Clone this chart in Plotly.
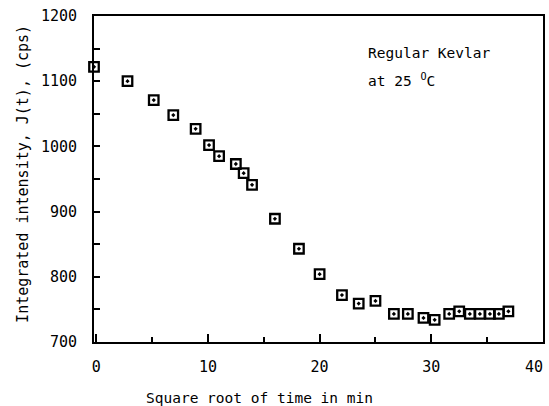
import plotly.graph_objects as go

sqrt_time = [-0.2, 2.8, 5.15, 6.9, 8.9, 10.1, 11.0, 12.5, 13.2, 13.95,
             16.0, 18.15, 20.0, 22.0, 23.5, 25.0, 26.65, 27.9, 29.3, 30.3,
             31.6, 32.5, 33.45, 34.35, 35.25, 36.05, 36.9]
intensity = [1122, 1100, 1071, 1048, 1027, 1002, 985, 973, 959, 941,
             889, 843, 804, 772, 759, 763, 743, 743, 737, 734,
             743, 747, 743, 743, 743, 743, 747]

x_ticks = [0, 10, 20, 30, 40]
x_labels = ["0", "10", "20", "30", "40"]
y_ticks = [700, 800, 900, 1000, 1100, 1200]

FONT = "DejaVu Sans Mono"

fig = go.Figure()
fig.add_trace(go.Scatter(
    x=sqrt_time, y=intensity, mode="markers",
    marker=dict(symbol="square-open-dot", size=9.5, color="black",
                line=dict(width=2.3, color="black")),
    showlegend=False, cliponaxis=False,
))

fig.update_layout(
    width=549, height=406,
    margin=dict(l=93.5, r=4, t=16, b=64),
    paper_bgcolor="white", plot_bgcolor="white",
    font=dict(family=FONT, size=14, color="black"),
    xaxis=dict(range=[-0.2, 40], tickvals=x_ticks[:-1], ticktext=x_labels[:-1],
               showgrid=False, zeroline=False, showline=True, linecolor="black",
               linewidth=2, mirror=True, ticks="inside", ticklen=8, tickwidth=2,
               tickcolor="black", ticklabelstandoff=10,
               tickfont=dict(family=FONT, size=15),
               minor=dict(dtick=5, tick0=0, ticks="inside", ticklen=5,
                          tickwidth=1.5, tickcolor="black", showgrid=False)),
    yaxis=dict(range=[700, 1200], tickvals=y_ticks, ticktext=[str(v) for v in y_ticks],
               showgrid=False, zeroline=False, showline=True, linecolor="black",
               linewidth=2, mirror=True, ticks="inside", ticklen=6, tickwidth=1.5,
               tickcolor="black", ticklabelstandoff=12,
               tickfont=dict(family=FONT, size=15),
               minor=dict(dtick=50, tick0=700, ticks="inside", ticklen=6,
                          tickwidth=1.5, tickcolor="black", showgrid=False)),
    annotations=[
        dict(text=x_labels[-1], xref="x", yref="paper", x=x_ticks[-1], y=0,
             xshift=2, yshift=-14, showarrow=False, xanchor="right", yanchor="top",
             font=dict(family=FONT, size=15)),
        dict(text="Square root of time in min", xref="paper", yref="paper",
             x=(260 - 93.5) / 451.5, y=(342 - 398) / 326, showarrow=False,
             xanchor="center", yanchor="middle", font=dict(family=FONT, size=14.5)),
        dict(text="Integrated intensity, J(t), (cps)", xref="paper", yref="paper",
             x=(22 - 93.5) / 451.5, y=(342 - 174) / 326, showarrow=False,
             textangle=-90, xanchor="center", yanchor="middle",
             font=dict(family=FONT, size=15)),
        dict(text="Regular Kevlar", xref="paper", yref="paper",
             x=(367 - 93.5) / 451.5, y=(342 - 53) / 326, showarrow=False,
             xanchor="left", yanchor="middle", font=dict(family=FONT, size=14.5)),
        dict(text="at 25 <sup>O</sup>C", xref="paper", yref="paper",
             x=(367 - 93.5) / 451.5, y=(342 - 80) / 326, showarrow=False,
             xanchor="left", yanchor="middle", font=dict(family=FONT, size=14.5)),
    ],
)

fig.write_html("out.html")
